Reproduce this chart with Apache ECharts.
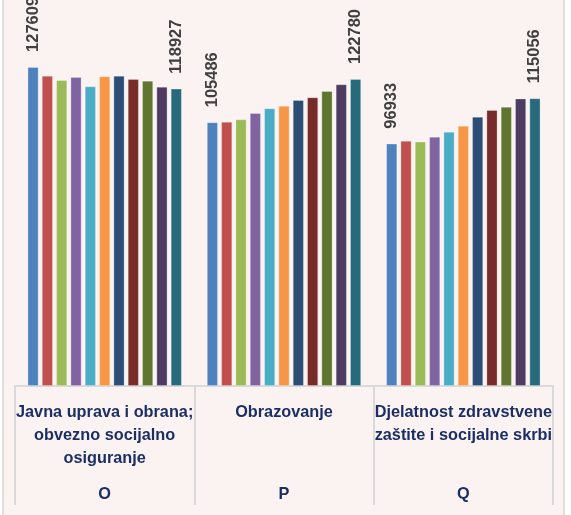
<!DOCTYPE html>
<html>
<head>
<meta charset="utf-8">
<script src="https://cdn.jsdelivr.net/npm/echarts@6/dist/echarts.min.js"></script>
<style>
html,body{margin:0;padding:0;background:#ffffff;}
#chart{width:571px;height:515px;}
</style>
</head>
<body>
<div id="chart"></div>
<script>
// Categories (two-level axis)
const categories = [
  'Javna uprava i obrana;\nobvezno socijalno\nosiguranje',
  'Obrazovanje',
  'Djelatnost zdravstvene\nzaštite i socijalne skrbi'
];
const codes = ['O', 'P', 'Q'];

// Series (one bar per period within each category)
const seriesNames = ['1', '2', '3', '4', '5', '6', '7', '8', '9', '10', '11'];
const valuesO = [127609, 124100, 122400, 123600, 119850, 123850, 124100, 122800, 122100, 119700, 118927];
const valuesP = [105486, 105700, 106650, 109200, 111050, 112100, 114400, 115450, 118000, 120650, 122780];
const valuesQ = [96933, 98100, 97800, 99700, 101700, 104100, 107700, 110400, 111700, 115000, 115056];

const colors = ['#4F81BD', '#C0504D', '#9BBB59', '#8064A2', '#4BACC6', '#F79646',
                '#2C4D75', '#772C2A', '#5F7530', '#4D3B62', '#276A7C'];
const labelledSeries = [0, 10];

const navy = '#1B2F66';
const gridLine = '#D9D9D9';
const fontFam = '"Liberation Sans", Arial, sans-serif';

const series = seriesNames.map((name, i) => ({
  name: name,
  type: 'bar',
  data: [valuesO[i], valuesP[i], valuesQ[i]],
  barGap: '30%',
  barCategoryGap: '14%',
  itemStyle: { color: colors[i], borderColor: 'rgba(255,255,255,0.35)', borderWidth: 0.8 },
  label: {
    show: labelledSeries.includes(i),
    position: 'top',
    rotate: 90,
    align: 'left',
    verticalAlign: 'middle',
    distance: 15,
    formatter: '{c}',
    fontFamily: fontFam,
    fontWeight: 'bold',
    fontSize: 16.5,
    color: '#404040'
  }
}));

const chart = echarts.init(document.getElementById('chart'), null, { renderer: 'canvas' });
chart.setOption({
  animation: false,
  backgroundColor: '#ffffff',
  graphic: [{
    type: 'rect',
    z: -10,
    shape: { x: 3, y: -5, width: 561, height: 530 },
    style: { fill: '#FBF3F1', stroke: '#D6D6D6', lineWidth: 1.5 }
  }],
  grid: { left: 15, right: 18, top: 36, bottom: 129, containLabel: false },
  yAxis: { type: 'value', min: 0, max: 140000, show: false },
  xAxis: [{
    type: 'category',
    data: categories,
    position: 'bottom',
    axisLine: { show: true, lineStyle: { color: gridLine, width: 2 } },
    axisTick: { show: true, length: 119, lineStyle: { color: gridLine, width: 2 } },
    axisLabel: {
      interval: 0,
      margin: 15,
      fontFamily: fontFam,
      fontWeight: 'bold',
      fontSize: 16.3,
      lineHeight: 23,
      color: navy
    }
  }, {
    type: 'category',
    data: codes,
    position: 'bottom',
    axisLine: { show: false },
    axisTick: { show: false },
    axisLabel: {
      interval: 0,
      margin: 99,
      fontFamily: fontFam,
      fontWeight: 'bold',
      fontSize: 16.3,
      lineHeight: 20,
      color: navy
    }
  }],
  series: series
});
</script>
</body>
</html>
